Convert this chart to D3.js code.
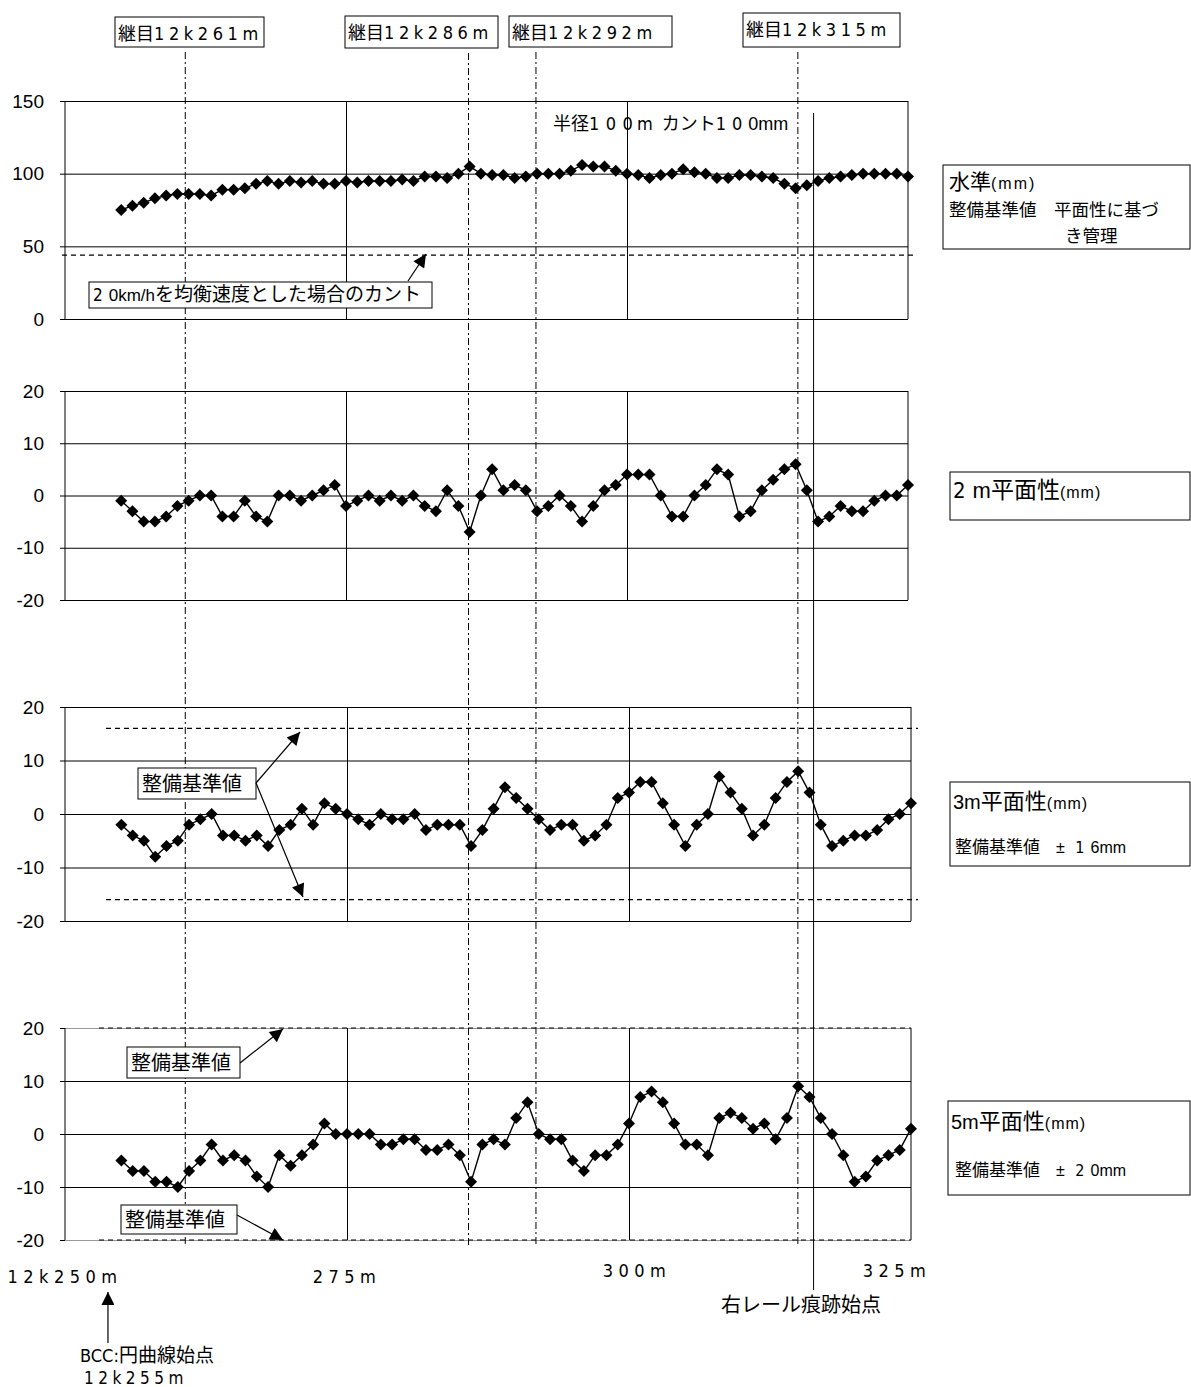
<!DOCTYPE html>
<html>
<head>
<meta charset="utf-8">
<script src="https://cdn.jsdelivr.net/npm/d3@7"></script>
<style>
  body { margin: 0; background: #fff; }
  svg text { font-family: "Liberation Sans", Arial, sans-serif; fill: #000; }
  .jp { font-family: "Noto Sans CJK JP", sans-serif; }
  .num { font-family: "Liberation Sans Narrow", "DejaVu Sans Condensed", "Liberation Sans", sans-serif; }
  .lat { font-family: "Liberation Sans", Arial, sans-serif; }
</style>
</head>
<body>
<svg id="chart" width="1191" height="1387"></svg>
<script>
// Measuring points: one every metre, 12k255m .. 12k325m
var stations = d3.range(255, 326);

// 水準 (mm)
var level = [75, 78, 80, 83, 85, 86, 86, 86, 85, 89, 89, 90, 93, 95, 93, 95, 94, 95, 93, 93,
             95, 94, 95, 95, 95, 96, 95, 98, 98, 97, 100, 105, 100, 99, 99, 97,
             98, 100, 100, 100, 102, 106, 105, 105, 102, 100, 99, 97, 99, 100, 103, 101, 100, 97,
             97, 99, 99, 98, 97, 93, 90, 92, 95, 97, 98, 99, 100, 100, 100, 100, 98];
// 2m 平面性 (mm)
var flat2 = [-1, -3, -5, -5, -4, -2, -1, 0, 0, -4, -4, -1, -4, -5, 0, 0, -1, 0, 1, 2,
             -2, -1, 0, -1, 0, -1, 0, -2, -3, 1, -2, -7, 0, 5, 1, 2,
             1, -3, -2, 0, -2, -5, -2, 1, 2, 4, 4, 4, 0, -4, -4, 0, 2, 5, 4, -4,
             -3, 1, 3, 5, 6, 1, -5, -4, -2, -3, -3, -1, 0, 0, 2];
// 3m 平面性 (mm)
var flat3 = [-2, -4, -5, -8, -6, -5, -2, -1, 0, -4, -4, -5, -4, -6, -3, -2, 1, -2, 2, 1,
             0, -1, -2, 0, -1, -1, 0, -3, -2, -2, -2, -6, -3, 1, 5, 3,
             1, -1, -3, -2, -2, -5, -4, -2, 3, 4, 6, 6, 2, -2, -6, -2, 0, 7, 4, 1,
             -4, -2, 3, 6, 8, 4, -2, -6, -5, -4, -4, -3, -1, 0, 2];
// 5m 平面性 (mm)
var flat5 = [-5, -7, -7, -9, -9, -10, -7, -5, -2, -5, -4, -5, -8, -10, -4, -6, -4, -2, 2, 0,
             0, 0, 0, -2, -2, -1, -1, -3, -3, -2, -4, -9, -2, -1, -2, 3,
             6, 0, -1, -1, -5, -7, -4, -4, -2, 2, 7, 8, 6, 2, -2, -2, -4, 3, 4, 3,
             1, 2, -1, 3, 9, 7, 3, 0, -4, -9, -8, -5, -4, -3, 1];

var levelTicks = [0, 50, 100, 150];
var flatTicks = [-20, -10, 0, 10, 20];
var xGrid = [275, 300];
var xTicks = [250, 275, 300, 325];
var xTickLabels = ['12k250m', '275m', '300m', '325m'];

// joints (継目) and marks, positions as drawn
var jointPos = [260.7, 285.9, 291.9, 315.2];
var jointLabels = ['12k261m', '12k286m', '12k292m', '12k315m'];
var railMarkPos = 316.6;     // 右レール痕跡始点
var bccPos = 254;            // arrow under 12k250m label
var balanceCant = 44;        // 20km/h を均衡速度とした場合のカント
var limit3 = 16;             // 3m 平面性 整備基準値
var limit5 = 20;             // 5m 平面性 整備基準値

// ---- layout ----
var LEFT = 65;
var panels = [
  {vals: level, domain: [0, 150], ticks: levelTicks, top: 101, bottom: 319, right: 908},
  {vals: flat2, domain: [-20, 20], ticks: flatTicks, top: 391, bottom: 600, right: 908},
  {vals: flat3, domain: [-20, 20], ticks: flatTicks, top: 707, bottom: 921, right: 911},
  {vals: flat5, domain: [-20, 20], ticks: flatTicks, top: 1028, bottom: 1240, right: 911}
];

var svg = d3.select('#chart');

svg.append('defs').append('marker')
  .attr('id', 'arr')
  .attr('viewBox', '0 0 10 10')
  .attr('refX', 10).attr('refY', 5)
  .attr('markerWidth', 17).attr('markerHeight', 13)
  .attr('markerUnits', 'userSpaceOnUse')
  .attr('orient', 'auto')
  .append('path').attr('d', 'M0,0L10,5L0,10Z').attr('fill', '#000');

// Overlay x scale (same as top panels)
var xo = d3.scaleLinear().domain([250, 325]).range([LEFT, 908]);

// Rich text from parts: [text, class, size, letterSpacing]
function richText(parent, x, y, parts, anchor) {
  var t = parent.append('text').attr('x', x).attr('y', y);
  if (anchor) t.attr('text-anchor', anchor);
  parts.forEach(function (p) {
    t.append('tspan').attr('class', p[1])
      .style('font-size', p[2] + 'px')
      .style('letter-spacing', (p[3] || 0) + 'px')
      .text(p[0]);
  });
  return t;
}

function box(x0, y0, x1, y1) {
  svg.append('rect')
    .attr('x', x0).attr('y', y0)
    .attr('width', x1 - x0).attr('height', y1 - y0)
    .attr('fill', '#fff').attr('stroke', '#000').attr('stroke-width', 1);
}

function arrow(x0, y0, x1, y1) {
  svg.append('line')
    .attr('x1', x0).attr('y1', y0).attr('x2', x1).attr('y2', y1)
    .attr('stroke', '#000').attr('stroke-width', 1.2)
    .attr('marker-end', 'url(#arr)');
}

function hDash(y, x0, x1) {
  svg.append('line')
    .attr('x1', x0).attr('x2', x1).attr('y1', y).attr('y2', y)
    .attr('stroke', '#000').attr('stroke-width', 1.2)
    .attr('stroke-dasharray', '5,4');
}

// Draw one panel
function drawPanel(p, i) {
  var x = d3.scaleLinear().domain([250, 325]).range([LEFT, p.right]);
  var y = d3.scaleLinear().domain(p.domain).range([p.bottom, p.top]);
  p.x = x; p.y = y;
  var g = svg.append('g');

  // horizontal grid
  g.append('g').attr('transform', 'translate(' + LEFT + ',0)')
    .call(d3.axisLeft(y).tickValues(p.ticks).tickSize(-(p.right - LEFT)).tickFormat(''))
    .call(function (s) { s.select('.domain').remove(); })
    .selectAll('line')
    .attr('stroke', function (d) { return (i === 3 && Math.abs(d) === 20) ? '#999' : '#000'; })
    .attr('stroke-width', 1);

  // vertical grid
  g.append('g').attr('transform', 'translate(0,' + p.bottom + ')')
    .call(d3.axisBottom(x).tickValues(xGrid).tickSize(-(p.bottom - p.top)).tickFormat(''))
    .call(function (s) { s.select('.domain').remove(); })
    .selectAll('line').attr('stroke', '#000').attr('stroke-width', 1);

  // frame sides
  [LEFT, p.right].forEach(function (xx) {
    g.append('line').attr('x1', xx).attr('x2', xx).attr('y1', p.top).attr('y2', p.bottom)
      .attr('stroke', '#000').attr('stroke-width', 1);
  });

  // y labels
  var ax = g.append('g').attr('transform', 'translate(' + LEFT + ',0)')
    .call(d3.axisLeft(y).tickValues(p.ticks).tickSize(5).tickPadding(16)
      .tickFormat(function (d) { return String(d); }));
  ax.select('.domain').remove();
  ax.selectAll('line').attr('stroke', '#000');
  ax.selectAll('text')
    .attr('font-family', '"Liberation Sans", Arial, sans-serif')
    .attr('font-size', 19).attr('fill', '#000');

  // series
  var line = d3.line()
    .x(function (d, k) { return x(stations[k]); })
    .y(function (d) { return y(d); });
  g.append('path').datum(p.vals)
    .attr('d', line)
    .attr('fill', 'none').attr('stroke', '#000').attr('stroke-width', 1.4);

  g.selectAll('.pt').data(p.vals).enter().append('path')
    .attr('class', 'pt')
    .attr('d', d3.symbol().type(d3.symbolSquare).size(72))
    .attr('transform', function (d, k) {
      return 'translate(' + x(stations[k]) + ',' + y(d) + ') rotate(45)';
    })
    .attr('fill', '#000');
}

panels.forEach(drawPanel);

// ---- reference lines ----
hDash(panels[0].y(balanceCant), 62, 916);
hDash(panels[2].y(limit3), 106, 918);
hDash(panels[2].y(-limit3), 106, 918);
hDash(panels[3].y(limit5), 99, 911);
hDash(panels[3].y(-limit5), 99, 911);

// ---- joint lines ----
var jointBoxes = [[115, 264, 17, 47], [345, 498, 16, 48], [509, 672, 16, 47], [743, 900, 13, 47]];
jointPos.forEach(function (j, k) {
  svg.append('line')
    .attr('x1', xo(j)).attr('x2', xo(j))
    .attr('y1', jointBoxes[k][3] + 5).attr('y2', 1246)
    .attr('stroke', '#000').attr('stroke-width', 1)
    .attr('stroke-dasharray', '7,3,2,3');
});
jointLabels.forEach(function (lab, k) {
  var b = jointBoxes[k];
  box(b[0], b[2], b[1], b[3]);
  richText(svg, b[0] + 3, b[2] + 23, [['継目', 'jp', 18], [lab, 'num', 18, 4.6]]);
});

// 右レール痕跡始点
svg.append('line')
  .attr('x1', xo(railMarkPos)).attr('x2', xo(railMarkPos))
  .attr('y1', 113).attr('y2', 1290)
  .attr('stroke', '#000').attr('stroke-width', 1);
richText(svg, 721, 1312, [['右レール痕跡始点', 'jp', 20]]);

// ---- annotations in panels ----
richText(svg, 553, 130, [['半径', 'jp', 18], ['10', 'num', 18, 6.5], ['0m', 'num', 18, 4],
  ['  ', 'lat', 18], ['カント', 'jp', 18], ['10', 'num', 18, 6], ['0mm', 'lat', 18]]);

box(89, 282, 432, 308);
richText(svg, 93, 301, [['2', 'num', 17, 6], ['0km/h', 'lat', 17], ['を均衡速度とした場合のカント', 'jp', 19]]);
arrow(408, 281, 426, 254);

box(138, 768, 256, 799);
richText(svg, 142, 791, [['整備基準値', 'jp', 20]]);
arrow(256, 783, 300, 732);
arrow(256, 783, 303, 897);

box(127, 1047, 240, 1078);
richText(svg, 131, 1070, [['整備基準値', 'jp', 20]]);
arrow(240, 1063, 283, 1029);

box(121, 1205, 237, 1234);
richText(svg, 125, 1227, [['整備基準値', 'jp', 20]]);
arrow(237, 1215, 283, 1240);

// ---- right-hand legend boxes ----
box(943, 165, 1190, 249);
richText(svg, 949, 189, [['水準', 'jp', 21], ['(mm)', 'lat', 16, 2]]);
richText(svg, 949, 216, [['整備基準値　平面性に基づ', 'jp', 17.5]]);
richText(svg, 1065, 242, [['き管理', 'jp', 17.5]]);

box(950, 472, 1190, 520);
richText(svg, 953, 498, [['2', 'num', 22, 7], ['m', 'lat', 22], ['平面性', 'jp', 23], ['(mm)', 'lat', 16, 1]]);

box(950, 782, 1190, 866);
richText(svg, 953, 809, [['3m', 'lat', 20], ['平面性', 'jp', 22], ['(mm)', 'lat', 16, 1]]);
richText(svg, 955, 853, [['整備基準値', 'jp', 17], ['　±', 'lat', 16], [' 1', 'num', 16, 6], ['6mm', 'lat', 16]]);

box(948, 1101, 1190, 1195);
richText(svg, 951, 1129, [['5m', 'lat', 20], ['平面性', 'jp', 22], ['(mm)', 'lat', 16, 1]]);
richText(svg, 955, 1176, [['整備基準値', 'jp', 17], ['　±', 'lat', 16], [' 2', 'num', 16, 6], ['0mm', 'lat', 16]]);

// ---- x labels under the bottom panel ----
var xLabelShift = [[0, 1283], [0, 1283], [8, 1277], [-14, 1277]];
var xb = panels[3].x;
xTicks.forEach(function (v, k) {
  richText(svg, xb(v) + xLabelShift[k][0], xLabelShift[k][1],
    [[xTickLabels[k], 'num', 18, 5.5]], 'middle');
});

// BCC
arrow(xo(bccPos) - 2, 1343, xo(bccPos) - 2, 1292);
richText(svg, 80, 1362, [['BCC:', 'num', 18], ['円曲線始点', 'jp', 19]]);
richText(svg, 84, 1384, [['12k255m', 'num', 17, 4.5]]);
</script>
</body>
</html>
